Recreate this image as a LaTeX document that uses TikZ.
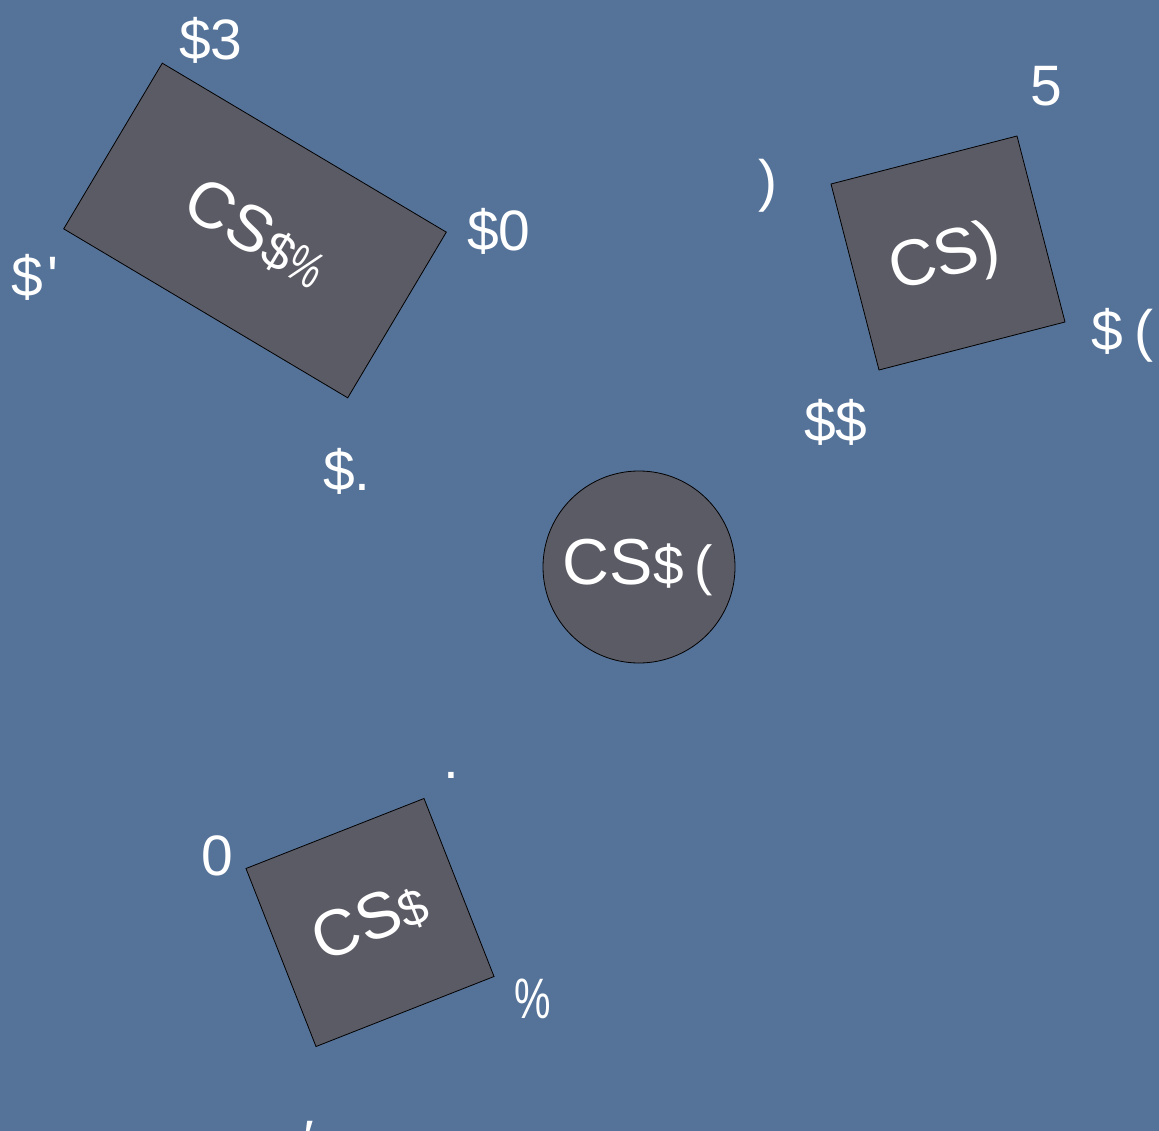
\documentclass[tikz,border=0pt]{standalone}
\usepackage{fontspec}
\usepackage{graphicx}
\setmainfont{Liberation Sans}
\definecolor{bg}{HTML}{557399}
\definecolor{boxfill}{HTML}{5B5B66}
\newcommand{\narrowpct}{\scalebox{0.72}[1]{\%}}
\begin{document}
\begin{tikzpicture}[x=1pt,y=-1pt,
  shapebox/.style={draw=black,line width=0.8pt,fill=boxfill,inner sep=0pt},
  lbl/.style={text=white,inner sep=0pt,anchor=base west,font=\fontsize{57}{60}\selectfont},
  big/.style={text=white,inner sep=0pt,font=\fontsize{65}{70}\selectfont}]
\fill[bg] (0,0) rectangle (1159,1131);
\useasboundingbox (0,0) rectangle (1159,1131);
% shapes
\node[shapebox,rectangle,minimum width=330.5pt,minimum height=192.8pt,rotate=-30.75] (r1) at (255,230.5) {};
\node[shapebox,rectangle,minimum width=192.1pt,minimum height=192.1pt,rotate=14.47] (r2) at (948,253) {};
\node[shapebox,circle,minimum size=192pt] (c1) at (639,567) {};
\node[shapebox,rectangle,minimum width=191.3pt,minimum height=191.3pt,rotate=21.47] (r3) at (370,922.5) {};
% texts in shapes
\node[big,rotate=-30.75] (t1) at (256,234) {CS{\fontsize{52}{60}\selectfont\$\narrowpct}};
\node[big,rotate=14.47] (t2) at (945,260) {CS)};
\node[big] (t3) at (638,567) {CS{\fontsize{55}{60}\selectfont\$\hspace{11pt}(}};
\node[big,rotate=21.47] (t4) at (370,921) {CS{\fontsize{50}{60}\selectfont\$}};
% labels
\node[lbl] (l1) at (179,60) {\$3};
\node[lbl] (l2) at (467,251) {\$0};
\node[lbl] (l3) at (11,297) {\$\hspace{5pt}\textquotesingle};
\node[lbl] (l4) at (323,490) {\$.};
\node[lbl] (l5) at (1030,106) {5};
\node[lbl] (l6) at (758,201) {)};
\node[lbl] (l7) at (1091,351) {\$\hspace{12pt}(};
\node[lbl] (l8) at (804,441) {\$\$};
\node[lbl] (l9) at (201,875) {0};
\node[lbl,anchor=base] (l10) at (451,778) {.};
\node[lbl] (l11) at (514,1018) {\narrowpct};
\node[lbl,anchor=base] (l12) at (309,1160) {′};
\end{tikzpicture}
\end{document}
